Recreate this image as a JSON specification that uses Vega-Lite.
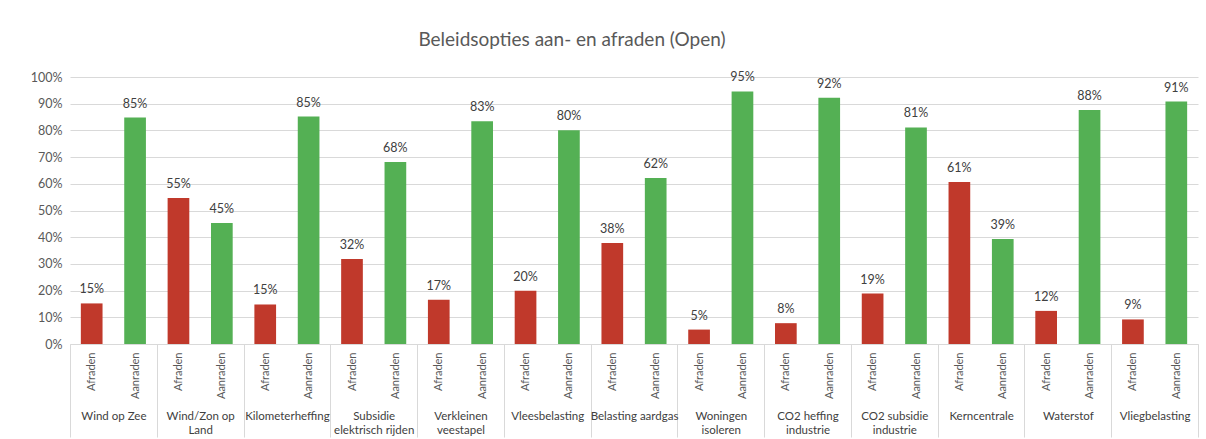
{
  "$schema": "https://vega.github.io/schema/vega-lite/v6.json",
  "width": 1128,
  "height": 267,
  "autosize": {"type": "none"},
  "padding": {"left": 70, "top": 77, "right": 8, "bottom": 95},
  "background": "white",
  "config": {"view": {"stroke": null}, "font": "Lato"},
  "title": {
    "text": "Beleidsopties aan- en afraden (Open)",
    "fontSize": 19,
    "font": "Lato",
    "fontWeight": "normal",
    "color": "#595959",
    "anchor": "middle",
    "offset": 21,
    "dx": -62
  },
  "data": {
    "values": [
      {"category": "Wind op Zee", "option": "Afraden", "key": "Wind op Zee|Afraden", "value": 0.152},
      {"category": "Wind op Zee", "option": "Aanraden", "key": "Wind op Zee|Aanraden", "value": 0.848},
      {"category": "Wind/Zon op\nLand", "option": "Afraden", "key": "Wind/Zon op Land|Afraden", "value": 0.547},
      {"category": "Wind/Zon op\nLand", "option": "Aanraden", "key": "Wind/Zon op Land|Aanraden", "value": 0.453},
      {"category": "Kilometerheffing", "option": "Afraden", "key": "Kilometerheffing|Afraden", "value": 0.148},
      {"category": "Kilometerheffing", "option": "Aanraden", "key": "Kilometerheffing|Aanraden", "value": 0.852},
      {"category": "Subsidie\nelektrisch rijden", "option": "Afraden", "key": "Subsidie elektrisch rijden|Afraden", "value": 0.318},
      {"category": "Subsidie\nelektrisch rijden", "option": "Aanraden", "key": "Subsidie elektrisch rijden|Aanraden", "value": 0.682},
      {"category": "Verkleinen\nveestapel", "option": "Afraden", "key": "Verkleinen veestapel|Afraden", "value": 0.166},
      {"category": "Verkleinen\nveestapel", "option": "Aanraden", "key": "Verkleinen veestapel|Aanraden", "value": 0.834},
      {"category": "Vleesbelasting", "option": "Afraden", "key": "Vleesbelasting|Afraden", "value": 0.199},
      {"category": "Vleesbelasting", "option": "Aanraden", "key": "Vleesbelasting|Aanraden", "value": 0.801},
      {"category": "Belasting aardgas", "option": "Afraden", "key": "Belasting aardgas|Afraden", "value": 0.378},
      {"category": "Belasting aardgas", "option": "Aanraden", "key": "Belasting aardgas|Aanraden", "value": 0.622},
      {"category": "Woningen\nisoleren", "option": "Afraden", "key": "Woningen isoleren|Afraden", "value": 0.054},
      {"category": "Woningen\nisoleren", "option": "Aanraden", "key": "Woningen isoleren|Aanraden", "value": 0.946},
      {"category": "CO2 heffing\nindustrie", "option": "Afraden", "key": "CO2 heffing industrie|Afraden", "value": 0.078},
      {"category": "CO2 heffing\nindustrie", "option": "Aanraden", "key": "CO2 heffing industrie|Aanraden", "value": 0.922},
      {"category": "CO2 subsidie\nindustrie", "option": "Afraden", "key": "CO2 subsidie industrie|Afraden", "value": 0.189},
      {"category": "CO2 subsidie\nindustrie", "option": "Aanraden", "key": "CO2 subsidie industrie|Aanraden", "value": 0.811},
      {"category": "Kerncentrale", "option": "Afraden", "key": "Kerncentrale|Afraden", "value": 0.607},
      {"category": "Kerncentrale", "option": "Aanraden", "key": "Kerncentrale|Aanraden", "value": 0.393},
      {"category": "Waterstof", "option": "Afraden", "key": "Waterstof|Afraden", "value": 0.124},
      {"category": "Waterstof", "option": "Aanraden", "key": "Waterstof|Aanraden", "value": 0.876},
      {"category": "Vliegbelasting", "option": "Afraden", "key": "Vliegbelasting|Afraden", "value": 0.092},
      {"category": "Vliegbelasting", "option": "Aanraden", "key": "Vliegbelasting|Aanraden", "value": 0.908}
    ]
  },
  "encoding": {
    "y": {
      "field": "value",
      "type": "quantitative",
      "scale": {"domain": [0, 1]},
      "axis": {
        "title": null,
        "format": ".0%",
        "values": [0, 0.1, 0.2, 0.3, 0.4, 0.5, 0.6, 0.7, 0.8, 0.9, 1],
        "grid": true,
        "gridColor": "#d9d9d9",
        "gridWidth": 1,
        "domain": false,
        "ticks": false,
        "labelPadding": 8,
        "labelFontSize": 12.5,
        "labelColor": "#595959"
      }
    }
  },
  "layer": [
    {
      "mark": {"type": "bar"},
      "encoding": {
        "x": {
          "field": "category",
          "type": "nominal",
          "sort": null,
          "scale": {"paddingInner": 0, "paddingOuter": 0},
          "axis": {
            "orient": "bottom",
            "title": null,
            "tickBand": "extent",
            "tickSize": 93,
            "tickColor": "#d9d9d9",
            "domain": true,
            "domainColor": "#d9d9d9",
            "labelPadding": -27,
            "labelAngle": 0,
            "labelFontSize": 11.5,
            "labelColor": "#404040",
            "labelExpr": "split(datum.label, '\\n')",
            "labelLineHeight": 14,
            "labelBaseline": "top",
            "labelLimit": 0,
            "grid": false
          }
        },
        "xOffset": {
          "field": "option",
          "type": "nominal",
          "sort": ["Afraden", "Aanraden"],
          "scale": {"paddingInner": 0.5, "paddingOuter": 0.25}
        },
        "color": {
          "field": "option",
          "type": "nominal",
          "scale": {"domain": ["Afraden", "Aanraden"], "range": ["#c0392b", "#54b054"]},
          "legend": null
        }
      }
    },
    {
      "mark": {"type": "text", "baseline": "bottom", "dy": -7, "fontSize": 12.5, "color": "#404040"},
      "encoding": {
        "x": {
          "field": "key",
          "type": "nominal",
          "sort": null,
          "scale": {"paddingInner": 0.5, "paddingOuter": 0.25},
          "axis": {
            "orient": "bottom",
            "title": null,
            "ticks": false,
            "domain": false,
            "grid": false,
            "labelAngle": -90,
            "labelPadding": 8,
            "labelFontSize": 11,
            "labelColor": "#595959",
            "labelExpr": "split(datum.label, '|')[1]"
          }
        },
        "text": {"field": "value", "type": "quantitative", "format": ".0%"}
      }
    }
  ],
  "resolve": {"scale": {"x": "independent"}, "axis": {"x": "independent"}}
}
